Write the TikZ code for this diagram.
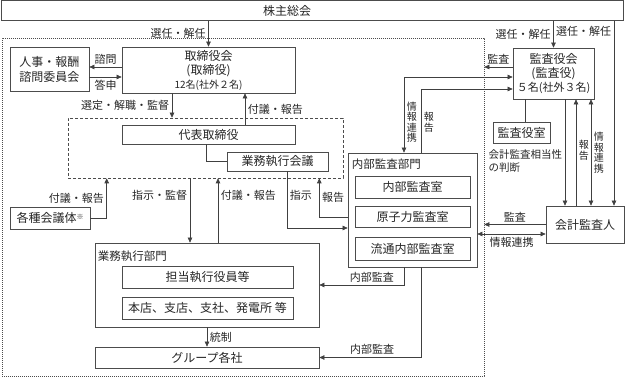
\documentclass[tikz,border=0pt]{standalone}
\usepackage{fontspec}
\setmainfont{Noto Sans CJK JP}
\usetikzlibrary{arrows.meta}

\begin{document}
\begin{tikzpicture}[x=1pt,y=-1pt,>={Triangle[length=5pt,width=4.5pt]},
  wh/.style 2 args={minimum width=#1pt,minimum height=#2pt},
  box/.style={draw=black!70, line width=0.7pt, inner sep=0pt, align=center, font=\fontsize{12}{14}\selectfont, text=black!85},
  area/.style={draw=black!70, line width=0.6pt, inner sep=0pt},
  title/.style={anchor=north west, inner sep=0pt, font=\fontsize{11.5}{13}\selectfont, text=black!85},
  link/.style={->, draw=black!75, line width=0.6pt},
  bilink/.style={<->, draw=black!75, line width=0.6pt},
  plain/.style={draw=black!75, line width=0.6pt},
  note/.style={font=\fontsize{11}{12.5}\selectfont, text=black!85, inner sep=2.5pt},
  vnote/.style={font=\fontsize{10}{10.5}\selectfont, text=black!85, align=center, inner sep=2.5pt}]
\useasboundingbox (0,0) rectangle (625,377);

% areas
\node[area, dash pattern=on 0.8pt off 1.2pt, wh={482}{338}] (kaisha) at (243,207) {};
\node[area, dash pattern=on 3pt off 2pt, wh={275}{60}] (daihyoarea) at (205.5,148) {};

% boxes
\node[box, wh={622}{20}] (soukai) at (312.5,10.5) {};
\node[box, draw=none] (soukaiT) at (287,10.5) {株主総会};
\node[box, wh={173}{46}] (torishimari) at (208.5,70) {取締役会\\(取締役)\\{\fontsize{10}{12}\selectfont 12名(社外２名)}};
\node[box, wh={79}{44}, font=\fontsize{12}{15}\selectfont] (jinji) at (49.5,69) {人事・報酬\\諮問委員会};
\node[box, wh={173}{19}] (daihyo) at (208.5,134.5) {代表取締役};
\node[box, wh={101}{19}] (gyomukaigi) at (277.5,161.5) {業務執行会議};
\node[box, wh={80}{22}] (kaigitai) at (50,218) {各種会議体\raisebox{3pt}{\fontsize{7}{7}\selectfont ※}};
\node[box, wh={224}{84}] (gyomubumon) at (207,285) {};
\node[title] (gyomubumonT) at ([xshift=3pt,yshift=-8pt]gyomubumon.north west) {業務執行部門};
\node[box, wh={171}{22}] (tanto) at (207.5,277) {担当執行役員等};
\node[box, wh={171}{22}] (honten) at (207.5,308) {本店、支店、支社、発電所 等};
\node[box, wh={224}{21}] (groupco) at (207,357.5) {グループ各社};
\node[box, wh={129}{114}] (naibu) at (412.5,210) {};
\node[title] (naibuT) at ([xshift=4pt,yshift=-6pt]naibu.north west) {内部監査部門};
\node[box, wh={115}{22}] (naibushitsu) at (412.5,187) {内部監査室};
\node[box, wh={115}{21}] (genshiryoku) at (412.5,216.5) {原子力監査室};
\node[box, wh={115}{23}] (ryutsu) at (412.5,248.5) {流通内部監査室};
\node[box, wh={81}{51}] (kansayaku) at (553.5,73.5) {監査役会\\(監査役)\\{\fontsize{11}{13}\selectfont ５名(社外３名)}};
\node[box, wh={57}{21}] (kansashitsu) at (521.5,132.5) {監査役室};
\node[box, wh={78}{37}] (kaikei) at (585,224.5) {会計監査人};

% 取締役会まわり
\draw[link] (soukai.south -| torishimari.north) -- (torishimari.north) node[midway,left,note]{選任・解任};
\coordinate (shimon) at ([yshift=3pt]torishimari.west);
\coordinate (toshin) at ([yshift=-8pt]jinji.east);
\draw[link] (shimon) -- (shimon -| jinji.east) node[midway,above,note]{諮問};
\draw[link] (toshin) -- (toshin -| torishimari.west) node[midway,below,note]{答申};
\coordinate (sentei) at ([xshift=-36.5pt]torishimari.south);
\coordinate (fugiA) at ([xshift=36.5pt]daihyo.north);
\draw[link] (sentei) -- (sentei |- daihyoarea.north) node[midway,left,note]{選定・解職・監督};
\draw[link] (fugiA) -- (fugiA |- torishimari.south) node[midway,right,note]{付議・報告};
\draw[plain] ([xshift=-2.5pt]daihyo.south) |- (gyomukaigi.west);

% 業務執行
\coordinate (fugiB) at ([xshift=39pt]daihyoarea.south west);
\draw[link] (kaigitai.east) -| (fugiB) node[pos=0.75,left,note]{付議・報告};
\coordinate (shiji) at ([xshift=-17pt]gyomubumon.north);
\coordinate (fugiC) at ([xshift=11pt]gyomubumon.north);
\draw[link] (shiji |- daihyoarea.south) -- (shiji) node[pos=0.27,left,note]{指示・監督};
\draw[link] (fugiC) -- (fugiC |- daihyoarea.south) node[pos=0.73,right,note]{付議・報告};
\draw[link] (gyomubumon.south) -- (groupco.north) node[midway,right,note]{統制};

% 内部監査部門
\coordinate (shijiD) at ([yshift=-18pt]naibu.west);
\coordinate (hokokuD) at ([yshift=-7pt]naibu.west);
\coordinate (hokokuE) at ([xshift=-24pt]daihyoarea.south east);
\draw[link] ([xshift=9.5pt]gyomukaigi.south) |- (shijiD) node[pos=0.21,right,note]{指示};
\draw[link] (hokokuD) -| (hokokuE) node[pos=0.75,right,note]{報告};
\coordinate (naikanA) at ([xshift=-8.5pt]naibu.south);
\coordinate (naikanB) at ([xshift=8.5pt]naibu.south);
\draw[link] (naikanA) |- (gyomubumon.east) node[pos=0.69,above,note]{内部監査};
\draw[link] (naikanB) |- (groupco.east) node[pos=0.74,above,note]{内部監査};

% 監査役会
\draw[link] (soukai.south -| kansayaku.north) -- (kansayaku.north) node[midway,left,note]{選任・解任};
\coordinate (renkeiA) at ([yshift=-3.5pt]kansayaku.west);
\coordinate (hokokuA) at ([yshift=-15.5pt]kansayaku.west);
\coordinate (kansaA) at ([yshift=6.5pt]kansayaku.west);
\draw[bilink] (renkeiA) -| ([xshift=-8.5pt]naibu.north) node[pos=0.8,right,vnote]{情\\報\\連\\携};
\draw[link] ([xshift=8.5pt]naibu.north) |- (hokokuA) node[pos=0.24,right,vnote]{報\\告};
\draw[link] (kansaA) -- (kansaA -| kaisha.east) node[midway,above,note]{監査};
\draw[plain] ([xshift=3.5pt]kansashitsu.north |- kansayaku.south) -- ([xshift=3.5pt]kansashitsu.north);

% 会計監査人
\coordinate (senninB) at ([xshift=29pt]kaikei.north);
\draw[link] (soukai.south -| senninB) -- (senninB) node[pos=0.055,left,note]{選任・解任};
\coordinate (soutou) at ([xshift=11.5pt]kansayaku.south);
\coordinate (hokokuB) at ([xshift=22.5pt]kansayaku.south);
\coordinate (renkeiB) at ([xshift=37.5pt]kansayaku.south);
\draw[link] (soutou) -- (soutou |- kaikei.north) node[pos=0.58,left,note,align=left,font=\fontsize{10.5}{13}\selectfont]{会計監査相当性\\の判断};
\draw[link] (hokokuB |- kaikei.north) -- (hokokuB) node[pos=0.52,right,vnote]{報\\告};
\draw[bilink] (renkeiB) -- (renkeiB |- kaikei.north) node[midway,right,vnote]{情\\報\\連\\携};
\coordinate (renkeiC) at ([yshift=-9.5pt]kaikei.west);
\draw[link] (kaikei.west) -- (kaikei.west -| kaisha.east) node[midway,above,note]{監査};
\draw[bilink] (renkeiC) -- (renkeiC -| naibu.east) node[midway,below,note]{情報連携};
\end{tikzpicture}
\end{document}
